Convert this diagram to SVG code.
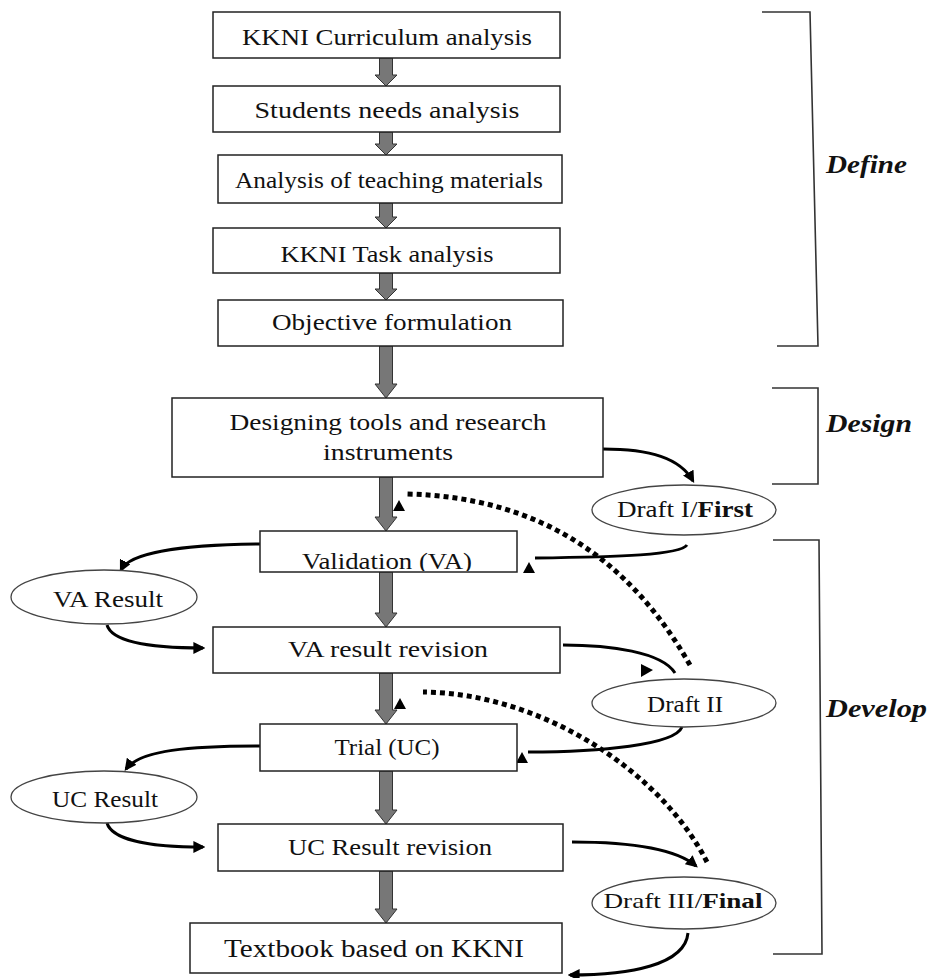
<svg xmlns="http://www.w3.org/2000/svg" width="928" height="978" viewBox="0 0 928 978">
<style>
.box{fill:#fff;stroke:#222;stroke-width:1.5}
.ell{fill:#fff;stroke:#444;stroke-width:1.3}
.t{font-family:"Liberation Serif",serif;font-size:24px;fill:#111;text-anchor:middle}
.lbl{font-family:"Liberation Serif",serif;font-size:25px;font-weight:bold;font-style:italic;fill:#111}
.ga{fill:#777;stroke:#333;stroke-width:1}
.con{fill:none;stroke:#000;stroke-width:3}
.dot{fill:none;stroke:#000;stroke-width:5;stroke-dasharray:5 4}
.brk{fill:none;stroke:#333;stroke-width:1.6}
.tri{fill:#000}
</style>
<defs>
<marker id="ah" viewBox="0 0 10 10" refX="8" refY="5" markerWidth="4" markerHeight="4" orient="auto" markerUnits="strokeWidth">
<path d="M0,0 L10,5 L0,10 z" fill="#000"/>
</marker>
<clipPath id="clipVA"><rect x="260" y="531" width="257" height="40"/></clipPath>
</defs>

<g id="brackets">
<polyline class="brk" points="762,12 810,12 818,346 777,346"/>
<polyline class="brk" points="772,388 818,388 818,484 772,484"/>
<polyline class="brk" points="773,540 819,540 822,954 773,954"/>
<text class="lbl" x="826" y="173" textLength="81" lengthAdjust="spacingAndGlyphs">Define</text>
<text class="lbl" x="826" y="432" textLength="86" lengthAdjust="spacingAndGlyphs">Design</text>
<text class="lbl" x="826" y="717" textLength="101" lengthAdjust="spacingAndGlyphs">Develop</text>
</g>

<g id="connectors">
<path class="ga" d="M379.5,58 h13 v17 h4.5 l-11,11 l-11,-11 h4.5 z"/>
<path class="ga" d="M379.5,132 h13 v12 h4.5 l-11,11 l-11,-11 h4.5 z"/>
<path class="ga" d="M379.5,203 h13 v14 h4.5 l-11,11 l-11,-11 h4.5 z"/>
<path class="ga" d="M379.5,273 h13 v16 h4.5 l-11,11 l-11,-11 h4.5 z"/>
<path class="ga" d="M379.5,346 h13 v38 h4.5 l-11,14 l-11,-14 h4.5 z"/>
<path class="ga" d="M379.5,477 h13 v40 h4.5 l-11,14 l-11,-14 h4.5 z"/>
<path class="ga" d="M379.5,572 h13 v41 h4.5 l-11,14 l-11,-14 h4.5 z"/>
<path class="ga" d="M379.5,673 h13 v37 h4.5 l-11,14 l-11,-14 h4.5 z"/>
<path class="ga" d="M379.5,771 h13 v39 h4.5 l-11,14 l-11,-14 h4.5 z"/>
<path class="ga" d="M379.5,871 h13 v38 h4.5 l-11,14 l-11,-14 h4.5 z"/>
<path class="con" d="M603,449 C650,449 680,458 693,481" marker-end="url(#ah)"/>
<path class="con" d="M687,545 C680,555 620,557 535,558"/>
<polygon class="tri" points="523,573 535,573 529,562"/>
<path class="con" d="M260,544 C180,545 130,552 121,570" marker-end="url(#ah)"/>
<path class="con" d="M107,625 C112,642 150,648 203,648" marker-end="url(#ah)"/>
<path class="con" d="M563,645 C610,645 662,652 675,673"/>
<polygon class="tri" points="641,664 641,677 653,670"/>
<path class="con" d="M682,727 C675,745 600,752 528,752"/>
<polygon class="tri" points="516,763 528,763 522,752"/>
<path class="con" d="M260,746 C190,746 140,750 126,769" marker-end="url(#ah)"/>
<path class="con" d="M107,823 C112,840 150,847 203,847" marker-end="url(#ah)"/>
<path class="con" d="M572,842 C625,842 675,848 696,866" marker-end="url(#ah)"/>
<path class="con" d="M688,933 C685,965 630,975 570,975" marker-end="url(#ah)"/>
<path class="dot" d="M690,665 C630,560 540,497 407,494"/>
<polygon class="tri" points="393,511 405,511 399,500"/>
<path class="dot" d="M707,862 C660,770 540,693 423,692"/>
<polygon class="tri" points="394,709 406,709 400,698"/>
</g>

<g id="n1"><rect class="box" x="213" y="12" width="347" height="46"/><text class="t" x="387" y="45" textLength="290" lengthAdjust="spacingAndGlyphs">KKNI Curriculum analysis</text></g>
<g id="n2"><rect class="box" x="213" y="86" width="347" height="46"/><text class="t" x="387" y="118" textLength="265" lengthAdjust="spacingAndGlyphs">Students needs analysis</text></g>
<g id="n3"><rect class="box" x="218" y="155" width="344" height="48"/><text class="t" x="389" y="188" textLength="308" lengthAdjust="spacingAndGlyphs">Analysis of teaching materials</text></g>
<g id="n4"><rect class="box" x="213" y="228" width="347" height="45"/><text class="t" x="387" y="262" textLength="213" lengthAdjust="spacingAndGlyphs">KKNI Task analysis</text></g>
<g id="n5"><rect class="box" x="218" y="300" width="345" height="46"/><text class="t" x="392" y="330" textLength="240" lengthAdjust="spacingAndGlyphs">Objective formulation</text></g>
<g id="n6"><rect class="box" x="172" y="398" width="431" height="79"/><text class="t" x="388" y="430" textLength="317" lengthAdjust="spacingAndGlyphs">Designing tools and research</text><text class="t" x="388" y="460" textLength="130" lengthAdjust="spacingAndGlyphs">instruments</text></g>
<g id="n7"><rect class="box" x="260" y="531" width="257" height="41"/><text class="t" x="387" y="569" textLength="170" lengthAdjust="spacingAndGlyphs" clip-path="url(#clipVA)">Validation (VA)</text></g>
<g id="n8"><rect class="box" x="213" y="627" width="347" height="46"/><text class="t" x="388" y="657" textLength="200" lengthAdjust="spacingAndGlyphs">VA result revision</text></g>
<g id="n9"><rect class="box" x="260" y="724" width="257" height="47"/><text class="t" x="387" y="755" textLength="105" lengthAdjust="spacingAndGlyphs">Trial (UC)</text></g>
<g id="n10"><rect class="box" x="218" y="824" width="345" height="47"/><text class="t" x="390" y="855" textLength="204" lengthAdjust="spacingAndGlyphs">UC Result revision</text></g>
<g id="n11"><rect class="box" x="190" y="923" width="372" height="50"/><text class="t" x="374" y="957" style="font-size:26px" textLength="300" lengthAdjust="spacingAndGlyphs">Textbook based on KKNI</text></g>

<g id="e1"><ellipse class="ell" cx="684" cy="510" rx="92" ry="25"/><text class="t" x="685" y="517" textLength="136" lengthAdjust="spacingAndGlyphs">Draft I/<tspan font-weight="bold">First</tspan></text></g>
<g id="e2"><ellipse class="ell" cx="104" cy="597" rx="93" ry="27"/><text class="t" x="108" y="607" textLength="110" lengthAdjust="spacingAndGlyphs">VA Result</text></g>
<g id="e3"><ellipse class="ell" cx="684" cy="703" rx="92" ry="24"/><text class="t" x="685" y="712" textLength="76" lengthAdjust="spacingAndGlyphs">Draft II</text></g>
<g id="e4"><ellipse class="ell" cx="104" cy="797" rx="93" ry="26"/><text class="t" x="105" y="807" textLength="106" lengthAdjust="spacingAndGlyphs">UC Result</text></g>
<g id="e5"><ellipse class="ell" cx="684" cy="903" rx="92" ry="26"/><text class="t" x="683" y="908" style="font-size:22px" textLength="159" lengthAdjust="spacingAndGlyphs">Draft III/<tspan font-weight="bold">Final</tspan></text></g>
</svg>
